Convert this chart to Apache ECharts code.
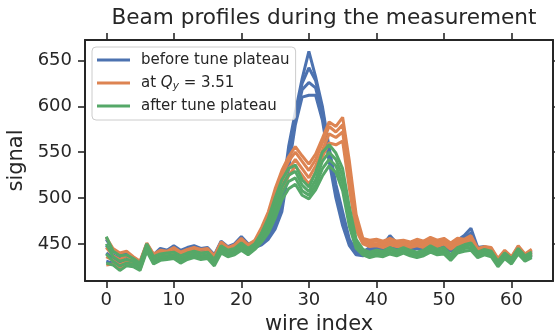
<!DOCTYPE html>
<html>
<head>
<meta charset="utf-8">
<script src="https://cdn.jsdelivr.net/npm/echarts@6/dist/echarts.min.js"></script>
<style>
  html, body { margin: 0; padding: 0; background: #fff; }
  #chart { width: 555px; height: 336px; }
</style>
</head>
<body>
<div id="chart"></div>
<script>
// Wire-scanner beam profiles: one value per wire (index = wire number), several scans per phase.
const xTicks = [0, 10, 20, 30, 40, 50, 60];
const yTicks = [450, 500, 550, 600, 650];

// before tune plateau
const before1 = [455,443,438,439,435,430,450,438,445,443,448,443,446,448,445,446,438,453,447,450,458,450,
  452,458,466,480,500,556,594,630,660,632,600,555,515,485,455,442,441,
  446,448,449,459,451,450,449,451,449,453,451,454,448,454,459,467,446,447,445,433,442,435,447,438,443];
const before2 = [448,438,434,436,432,427,448,436,442,441,445,440,443,445,442,443,435,450,444,447,455,447,
  450,455,462,476,495,548,590,625,642,628,596,550,510,480,452,440,440,
  444,446,447,455,449,448,447,449,447,451,449,452,446,452,456,462,444,445,443,431,440,433,445,436,441];
const before3 = [440,434,429,432,429,425,447,434,440,439,443,437,441,443,440,441,433,447,442,444,452,444,
  448,452,458,470,490,540,585,618,626,620,590,546,505,475,450,439,439,
  442,444,445,450,447,446,445,447,445,449,447,450,444,450,453,457,442,443,441,429,438,431,443,434,439];
const before4 = [431,429,425,429,427,423,445,432,438,437,441,435,439,441,438,439,431,445,440,442,449,442,
  446,449,455,466,485,532,580,610,612,612,585,540,500,470,448,438,437,
  440,442,443,447,445,444,443,445,443,447,445,448,442,448,450,453,440,441,439,427,436,429,441,432,437];

// at Qy = 3.51
const plateau1 = [457,445,440,442,436,431,451,439,443,442,446,441,444,446,444,445,437,452,446,449,456,449,
  454,468,485,510,530,545,556,546,537,548,565,583,578,588,540,482,456,
  454,455,453,456,453,454,452,455,453,457,454,456,451,456,455,459,445,447,446,434,443,436,448,439,444];
const plateau2 = [446,437,433,437,432,427,448,436,440,439,443,438,442,444,441,442,434,449,443,446,453,446,
  452,465,480,505,525,540,550,540,530,542,560,578,572,580,530,476,454,
  452,453,451,454,451,452,450,452,451,455,452,454,449,454,453,456,443,445,444,432,441,434,446,437,442];
const plateau3 = [436,432,427,431,428,424,446,433,438,437,441,435,439,441,439,440,432,446,441,443,450,443,
  450,462,476,498,518,532,542,532,522,535,552,570,566,572,520,470,452,
  450,450,449,451,449,450,448,450,449,452,450,452,447,451,451,453,441,443,442,430,439,432,444,435,440];
const plateau4 = [427,428,422,427,426,422,444,430,436,435,439,433,437,439,437,437,430,444,439,441,447,441,
  448,458,470,490,510,524,535,525,515,528,545,560,558,562,510,465,450,
  447,448,446,449,447,447,446,448,446,450,447,450,444,449,449,450,439,441,440,428,437,430,442,433,438];

// after tune plateau
const after1 = [458,442,437,438,434,429,450,436,439,440,441,437,440,442,440,441,433,448,443,445,451,445,
  450,462,478,500,520,532,536,520,512,528,550,558,549,532,490,455,444,
  441,443,442,446,443,446,443,441,443,448,444,446,438,446,449,451,441,444,442,431,440,434,445,437,441];
const after2 = [450,436,431,433,431,426,447,433,436,437,438,434,437,439,437,438,430,445,440,442,448,442,
  448,458,472,492,512,525,529,514,507,520,540,550,542,524,483,452,442,
  439,441,440,444,441,444,441,439,441,446,442,443,436,444,447,449,439,442,440,429,438,432,443,435,439];
const after3 = [439,431,426,429,428,423,445,430,434,435,436,431,435,437,435,436,428,442,438,440,445,440,
  446,455,466,485,505,518,522,508,503,514,532,542,535,516,476,448,440,
  437,439,438,441,439,442,439,437,439,444,440,441,434,442,445,446,437,440,438,427,436,430,441,433,437];
const after4 = [429,427,421,426,425,421,442,428,432,433,434,429,433,435,433,434,426,440,436,438,443,438,
  444,452,462,478,498,510,515,503,499,509,524,535,528,508,469,445,438,
  435,437,436,439,437,440,437,435,437,441,438,439,432,440,442,443,435,438,436,425,434,428,439,431,435];

const groups = [
  { name: 'before tune plateau', color: '#4C72B0', scans: [before1, before2, before3, before4] },
  { name: 'at Q_y = 3.51',       color: '#DD8452', scans: [plateau1, plateau2, plateau3, plateau4] },
  { name: 'after tune plateau',  color: '#55A868', scans: [after1, after2, after3, after4] }
];

const FONT = 'DejaVu Sans';
const INK = '#262626';

const series = [];
groups.forEach(g => {
  g.scans.forEach(scan => {
    series.push({
      type: 'line',
      name: g.name,
      data: scan.map((v, i) => [i, v]),
      showSymbol: false,
      symbol: 'none',
      color: g.color,
      lineStyle: { color: g.color, width: 3 },
      emphasis: { disabled: true },
      silent: true
    });
  });
});

const xRange = { min: -3.15, max: 66.15 };
const yRange = { min: 409.5, max: 672.3 };
const spine = { show: true, onZero: false, lineStyle: { color: INK, width: 2 } };
const tick = { show: true, inside: false, length: 7, lineStyle: { color: INK, width: 1.6 } };

const chart = echarts.init(document.getElementById('chart'), null, { renderer: 'canvas' });
chart.setOption({
  animation: false,
  backgroundColor: '#ffffff',
  title: {
    text: 'Beam profiles during the measurement',
    left: 319, top: 2, textAlign: 'center',
    textStyle: { fontFamily: FONT, fontSize: 21.6, fontWeight: 'normal', color: INK }
  },
  grid: { left: 85, right: 2, top: 40, bottom: 55, containLabel: false, outerBoundsMode: 'none' },
  legend: {
    data: groups.map(g => g.name),
    orient: 'vertical', left: 92, top: 47,
    icon: 'rect', itemWidth: 33, itemHeight: 3, itemGap: 5,
    padding: [4, 6, 5, 5],
    backgroundColor: 'rgba(255,255,255,0.8)',
    borderColor: '#cccccc', borderWidth: 1, borderRadius: 4,
    selectedMode: false,
    z: 10,
    formatter: name => name === 'at Q_y = 3.51' ? '{t|at }{q|Q}{s|y}{t| = 3.51}' : name,
    textStyle: {
      fontFamily: FONT, fontSize: 15, color: INK, lineHeight: 18, padding: [0, 0, 0, 6],
      rich: {
        t: { fontFamily: FONT, fontSize: 15, color: INK, lineHeight: 18 },
        q: { fontFamily: FONT, fontSize: 15, color: INK, fontStyle: 'italic', lineHeight: 18 },
        s: { fontFamily: FONT, fontSize: 10.5, color: INK, fontStyle: 'italic', lineHeight: 10, verticalAlign: 'bottom' }
      }
    }
  },
  xAxis: [
    {
      type: 'value', position: 'bottom', ...xRange,
      name: 'wire index', nameLocation: 'middle', nameGap: 31,
      nameTextStyle: { fontFamily: FONT, fontSize: 21, color: INK },
      axisLine: spine,
      axisTick: { ...tick, customValues: xTicks },
      axisLabel: { customValues: xTicks, margin: 10, fontFamily: FONT, fontSize: 18, color: INK },
      splitLine: { show: false }
    },
    {
      type: 'value', position: 'top', ...xRange,
      axisLine: spine,
      axisTick: { ...tick, customValues: xTicks },
      axisLabel: { show: false },
      splitLine: { show: false }
    }
  ],
  yAxis: [
    {
      type: 'value', position: 'left', ...yRange,
      name: 'signal', nameLocation: 'middle', nameGap: 44, nameRotate: 90,
      nameTextStyle: { fontFamily: FONT, fontSize: 21, color: INK },
      axisLine: spine,
      axisTick: { ...tick, customValues: yTicks },
      axisLabel: { customValues: yTicks, margin: 13, fontFamily: FONT, fontSize: 18, color: INK },
      splitLine: { show: false }
    },
    {
      type: 'value', position: 'right', ...yRange,
      axisLine: spine,
      axisTick: { ...tick, customValues: yTicks },
      axisLabel: { show: false },
      splitLine: { show: false }
    }
  ],
  series: series
});
</script>
</body>
</html>
